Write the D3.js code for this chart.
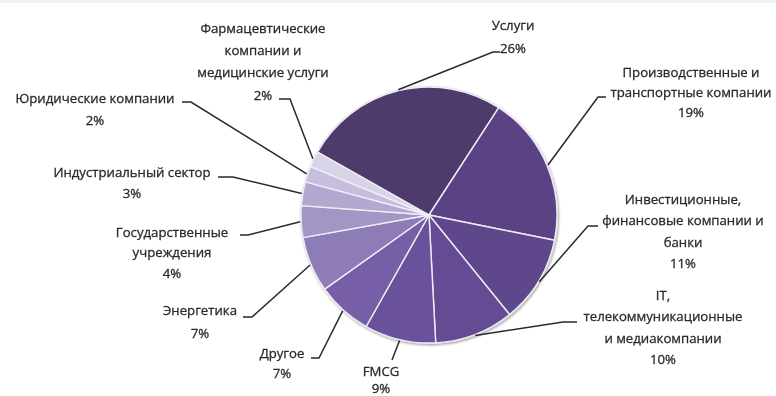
<!DOCTYPE html>
<html>
<head>
<meta charset="utf-8">
<script src="https://cdn.jsdelivr.net/npm/d3@7"></script>
<style>
  html, body { margin: 0; padding: 0; background: #fff; }
  svg { display: block; }
  .lbl { font-family: "Open Sans", "Noto Sans", sans-serif; font-size: 13.2px; fill: #2a2a2a;
         stroke: #2a2a2a; stroke-width: 0.3px; }
</style>
</head>
<body>
<svg id="chart" width="776" height="396"></svg>
<script>
// Sectors, in clockwise order starting from "Услуги"
const sectors = [
  "Услуги",
  "Производственные и транспортные компании",
  "Инвестиционные, финансовые компании и банки",
  "IT, телекоммуникационные и медиакомпании",
  "FMCG",
  "Другое",
  "Энергетика",
  "Государственные учреждения",
  "Индустриальный сектор",
  "Юридические компании",
  "Фармацевтические компании и медицинские услуги"
];
const shares = [26, 19, 11, 10, 9, 7, 7, 4, 3, 2, 2];
// Label text, one entry per line
const labelLines = [
  ["Услуги"],
  ["Производственные и", "транспортные компании"],
  ["Инвестиционные,", "финансовые компании и", "банки"],
  ["IT,", "телекоммуникационные", "и медиакомпании"],
  ["FMCG"],
  ["Другое"],
  ["Энергетика"],
  ["Государственные", "учреждения"],
  ["Индустриальный сектор"],
  ["Юридические компании"],
  ["Фармацевтические", "компании и", "медицинские услуги"]
];

// Slice fills, dark to light
const fills = ["#4e3a6c", "#5a4284", "#5f478b", "#654c93", "#6a519b", "#775ea8",
               "#8e7cb7", "#a296c5", "#b3a9d0", "#c6bedc", "#d9d3e7"];

// Layout: label block centre x, first line centre y, line step,
// and leader stub (x0 -> x1 at y) that leads to the slice edge.
const labelLayout = [
  { x: 513, y: 25,  step: 23, stub: [500, 493, 52] },
  { x: 691, y: 72,  step: 20, stub: [606, 598, 97] },
  { x: 683, y: 199, step: 21.5, stub: [598, 588, 226] },
  { x: 663, y: 295, step: 21.5, stub: [577, 563, 322] },
  { x: 381, y: 371, step: 17, stub: [392, 392, 360] },
  { x: 282, y: 353, step: 20, stub: [311, 319, 358] },
  { x: 200, y: 310, step: 23, stub: [243, 252, 317] },
  { x: 172, y: 232, step: 20.5, stub: [240, 248, 235] },
  { x: 132, y: 172, step: 21, stub: [218, 233, 177] },
  { x: 95,  y: 98,  step: 22, stub: [182, 191, 102] },
  { x: 263, y: 28,  step: 22.3, stub: [279, 290, 99] }
];

const cx = 429, cy = 215, R = 128;
const deg = Math.PI / 180;

const svg = d3.select("#chart");

// faint band along the top edge
svg.append("rect").attr("x", 0).attr("y", 0).attr("width", 776).attr("height", 3)
  .attr("fill", "#eef2f7");

const defs = svg.append("defs");
const shadow = defs.append("filter").attr("id", "pieShadow")
  .attr("x", "-10%").attr("y", "-10%").attr("width", "120%").attr("height", "120%");
shadow.append("feDropShadow").attr("dx", 1).attr("dy", 1.5).attr("stdDeviation", 1.2)
  .attr("flood-color", "#000").attr("flood-opacity", 0.35);
const soft = defs.append("filter").attr("id", "soft");
soft.append("feGaussianBlur").attr("stdDeviation", 0.35);

const data = sectors.map((s, i) => ({ name: s, value: shares[i], i }));
const pie = d3.pie().value(d => d.value).sort(null)
  .startAngle(-60.6 * deg).endAngle(-60.6 * deg + 2 * Math.PI);
const arcs = pie(data);
const arc = d3.arc().innerRadius(0).outerRadius(R);

const g = svg.append("g").attr("transform", `translate(${cx},${cy})`);

// outer rim with soft shadow
g.append("circle").attr("r", R + 1).attr("fill", "#d9d6de")
  .attr("filter", "url(#pieShadow)");

g.selectAll("path.slice").data(arcs).join("path")
  .attr("class", "slice")
  .attr("d", arc)
  .attr("fill", d => fills[d.data.i])
  .attr("stroke", "#f0edf5")
  .attr("stroke-width", 1.4)
  .attr("stroke-linejoin", "round")
  .attr("filter", "url(#soft)");

// leaders
const edge = d3.arc().innerRadius(R + 1).outerRadius(R + 1);
const leaders = svg.append("g").attr("filter", "url(#soft)");
arcs.forEach((d, k) => {
  const L = labelLayout[k];
  const [ex, ey] = edge.centroid(d);
  const pts = [[L.stub[0], L.stub[2]], [L.stub[1], L.stub[2]], [cx + ex, cy + ey]];
  leaders.append("path")
    .attr("d", d3.line()(pts))
    .attr("fill", "none")
    .attr("stroke", "#2a2a2a")
    .attr("stroke-width", 1.5);
});

// labels
const labels = svg.append("g").attr("filter", "url(#soft)");
arcs.forEach((d, k) => {
  const L = labelLayout[k];
  const lines = labelLines[k].concat([d.data.value + "%"]);
  const t = labels.append("text").attr("class", "lbl").attr("text-anchor", "middle");
  lines.forEach((ln, j) => {
    t.append("tspan").attr("x", L.x).attr("y", L.y + j * L.step)
      .attr("dy", "0.35em").text(ln);
  });
});
</script>
</body>
</html>
